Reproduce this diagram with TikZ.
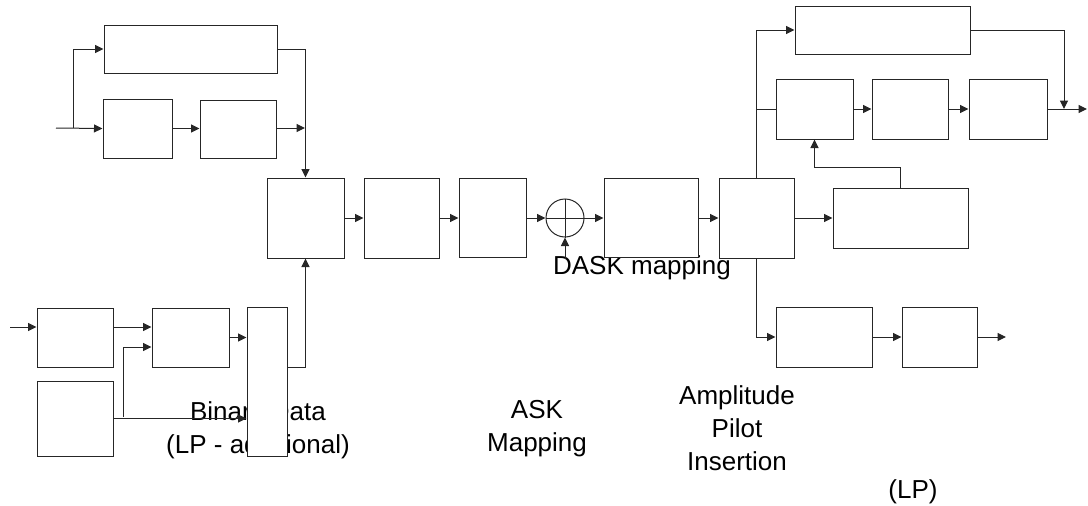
\documentclass[tikz,border=0pt]{standalone}
\usepackage{fontspec}
\setmainfont{Liberation Sans}
\usetikzlibrary{arrows.meta}
\begin{document}
\begin{tikzpicture}[x=1pt,y=-1pt,
  ln/.style={line width=1pt,draw=black!85},
  arr/.style={ln,-{Triangle[length=8.5pt,width=8pt]}},
  blk/.style={ln,fill=white,rectangle,inner sep=0pt},
  lbl/.style={font=\fontsize{26}{33}\selectfont,align=center,inner sep=0pt}]
\useasboundingbox (0,0) rectangle (1088,506);
% labels
\node[lbl] (tbin) at (258,430) {Binary Data\\(LP - additional)};
\node[lbl] (task) at (537,429) {ASK\\Mapping};
\node[lbl] (tapi) at (737,428) {Amplitude\\Pilot\\Insertion};
\node[lbl] (tdask) at (642,268) {DASK mapping};
\node[lbl] (tlp) at (913,492) {(LP)};
% boxes
\node[blk,minimum width=173pt,minimum height=48pt] (T1) at (190.5,49) {};
\node[blk,minimum width=69pt,minimum height=59pt] (A) at (137.5,128.5) {};
\node[blk,minimum width=76pt,minimum height=58pt] (B) at (238,129) {};
\node[blk,minimum width=77pt,minimum height=80pt] (C) at (305.5,218) {};
\node[blk,minimum width=75pt,minimum height=80pt] (D) at (401.5,218) {};
\node[blk,minimum width=67pt,minimum height=79pt] (E) at (492.5,217.5) {};
\node[ln,circle,minimum size=38pt,inner sep=0pt] (S) at (565,218) {};
\draw[ln] (S.north) -- (S.south) (S.west) -- (S.east);
\node[blk,minimum width=94pt,minimum height=79pt] (F) at (651,217.5) {};
\node[blk,minimum width=75pt,minimum height=80pt] (M) at (756.5,218) {};
\node[blk,minimum width=175pt,minimum height=48pt] (K) at (882.5,30) {};
\node[blk,minimum width=77pt,minimum height=60pt] (L1) at (814.5,109) {};
\node[blk,minimum width=76pt,minimum height=60pt] (L2) at (910,109) {};
\node[blk,minimum width=78pt,minimum height=60pt] (L3) at (1008,109) {};
\node[blk,minimum width=135pt,minimum height=60pt] (N) at (900.5,218) {};
\node[blk,minimum width=96pt,minimum height=60pt] (O) at (824,337) {};
\node[blk,minimum width=75pt,minimum height=60pt] (P) at (939.5,337) {};
\node[blk,minimum width=76pt,minimum height=59pt] (G) at (75,337.5) {};
\node[blk,minimum width=77pt,minimum height=59pt] (H) at (190.5,337.5) {};
\node[blk,minimum width=76pt,minimum height=75pt] (I) at (75,418.5) {};
\node[blk,minimum width=40pt,minimum height=149pt] (J) at (267,381.5) {};
% free ends
\coordinate (in1) at (56,128);
\coordinate (br1) at (73,128);
\coordinate (j1) at (305,128);
\coordinate (in2) at (10,327);
\coordinate (br2) at (123,417);
\coordinate (dsk) at (565,259);
\coordinate (out1) at (1087,109);
\coordinate (j2) at (1064,109);
\coordinate (out2) at (1006,337);
% connectors (left part)
\draw[arr] (in1) -- (A.west);
\draw[arr] (br1) |- (T1.west);
\draw[arr] (A.east) -- (B.west |- A.east);
\draw[arr] (B.east |- j1) -- (j1);
\draw[arr] (T1.east) -| (C.north);
\draw[arr] (in2) -- (in2 -| G.west);
\draw[arr] (in2 -| G.east) -- (in2 -| H.west);
\draw[arr] (br2) |- ([yshift=-9.5pt]H.west);
\draw[arr] (I.east) -- (I.east -| J.west);
\draw[arr] (H.east) -- (H.east -| J.west);
\draw[arr] ([yshift=14.5pt]J.east) -| (C.south);
% main chain
\draw[arr] (C.east) -- (D.west);
\draw[arr] (D.east) -- (E.west |- D.east);
\draw[arr] (E.east |- S.west) -- (S.west);
\draw[arr] (S.east) -- (F.west |- S.east);
\draw[arr] (dsk) -- (S.south);
\draw[arr] (F.east |- M.west) -- (M.west);
\draw[arr] (M.east) -- (N.west);
% right part
\draw[arr] (M.north) |- (K.west);
\draw[ln] (M.north |- L1.west) -- (L1.west);
\draw[arr] (L1.east) -- (L2.west);
\draw[arr] (L2.east) -- (L3.west);
\draw[arr] (L3.east) -- (out1);
\draw[arr] (K.east) -| (j2);
\draw[arr] (N.north) -- ++(0,-20) -| (L1.south);
\draw[arr] (M.south) |- (O.west);
\draw[arr] (O.east) -- (P.west);
\draw[arr] (P.east) -- (out2);
\end{tikzpicture}
\end{document}
